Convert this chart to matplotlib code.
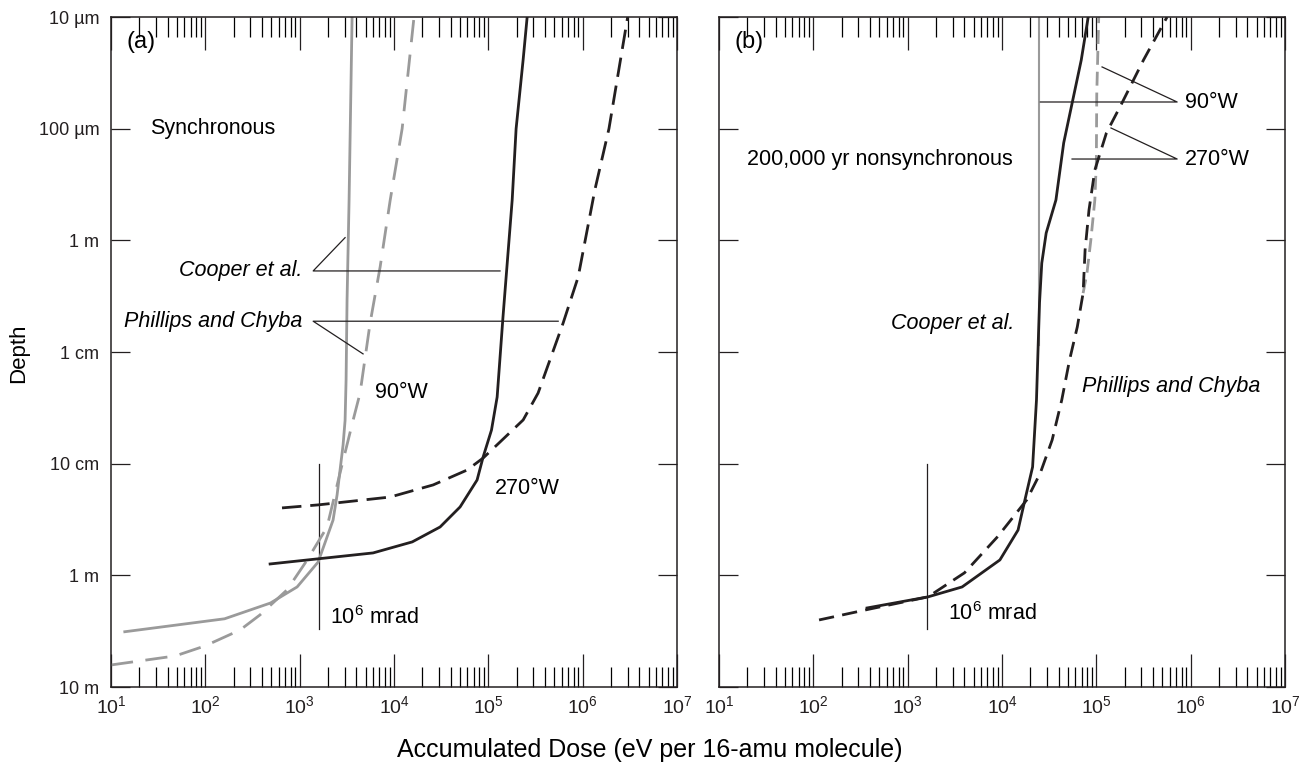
import matplotlib
matplotlib.use("Agg")
import matplotlib.pyplot as plt
from matplotlib.ticker import FixedLocator, NullLocator, FixedFormatter, LogLocator, LogFormatterMathtext

plt.rcParams['font.family'] = ['Liberation Sans', 'DejaVu Sans']
plt.rcParams['mathtext.fontset'] = 'custom'
plt.rcParams['mathtext.rm'] = 'Liberation Sans'
plt.rcParams['mathtext.it'] = 'Liberation Sans:italic'
plt.rcParams['mathtext.default'] = 'regular'

# ---------------- data ----------------
depth_ticks = [1e-5, 1e-4, 1e-3, 1e-2, 1e-1, 1, 10]
depth_labels = ['10 µm', '100 µm', '1 m', '1 cm', '10 cm', '1 m', '10 m']
dose_limits = [1e1, 1e7]

# Panel (a): synchronous
sync_cooper_90_x = [14, 160, 490, 940, 1570, 2260, 2494, 2680, 2885, 3030, 3105, 3180, 3340, 3595]
sync_cooper_90_y = [3.2, 2.45, 1.77, 1.27, 0.76, 0.32, 0.19, 0.114, 0.068, 0.041, 0.0178, 3.4e-3, 4.4e-4, 1e-5]

sync_phillips_90_x = [10, 48, 99, 233, 380, 735, 1200, 1950, 2680, 3680, 4370, 5580, 7130, 9100, 12200, 16300]
sync_phillips_90_y = [6.35, 5.27, 4.29, 3.09, 2.26, 1.35, 0.73, 0.37, 0.121, 0.041, 0.0233, 5.5e-3, 1.73e-3, 4.4e-4, 1e-4, 1e-5]

sync_cooper_270_x = [486, 6000, 15600, 30800, 50200, 76000, 88100, 108000, 124000, 143000, 179000, 197000, 234000, 258000]
sync_cooper_270_y = [0.791, 0.63, 0.502, 0.369, 0.244, 0.14, 0.0871, 0.05, 0.0253, 4.86e-3, 4.35e-4, 1e-4, 2.4e-5, 1e-5]

sync_phillips_270_x = [650, 1570, 9100, 26000, 59600, 88100, 133000, 234000, 337000, 621000, 896000, 1.35e6, 1.9e6, 2.5e6, 3.0e6]
sync_phillips_270_y = [0.249, 0.234, 0.199, 0.155, 0.114, 0.089, 0.064, 0.0406, 0.0233, 5.5e-3, 2.13e-3, 3.5e-4, 1e-4, 2.5e-5, 1e-5]

# Panel (b): 200,000 yr nonsynchronous
nons_cooper_90_x = [24500, 24500]
nons_cooper_90_y = [8.7e-3, 1e-5]

nons_phillips_90_x = [72400, 79600, 87500, 96400, 100000, 101000, 106000]
nons_phillips_90_y = [2.97e-3, 1.96e-3, 9.9e-4, 4.35e-4, 2e-4, 5e-5, 1e-5]

nons_cooper_270_x = [371, 1640, 3780, 9500, 14800, 17500, 21100, 23200, 24400, 25000, 26400, 29400, 37300, 45100, 69200, 82000]
nons_cooper_270_y = [1.96, 1.56, 1.27, 0.728, 0.393, 0.211, 0.107, 0.0269, 6.76e-3, 3.6e-3, 1.6e-3, 8.6e-4, 4.35e-4, 1.34e-4, 2.43e-5, 1e-5]

nons_phillips_270_x = [115, 400, 1640, 4000, 9000, 18300, 25500, 34000, 43000, 52000, 62800, 72400, 76000, 83600, 96400, 128000, 187000, 316000, 562000]
nons_phillips_270_y = [2.51, 2.0, 1.56, 0.95, 0.45, 0.211, 0.121, 0.0614, 0.0269, 0.0118, 5.97e-3, 2.97e-3, 1.22e-3, 5.35e-4, 2.35e-4, 1.09e-4, 5.89e-5, 2.43e-5, 1e-5]

# 10^6 mrad marker
mrad_dose = 1.6e3
mrad_depth = [0.1, 3.0]

# ---------------- styles ----------------
GRAY = '#9a9a9a'
BLACK = '#231f20'
LW = 2.0

fig = plt.figure(figsize=(13, 7.7), dpi=100)
W, H = 1300.0, 770.0
axL = fig.add_axes([111 / W, 1 - 687 / H, 566 / W, 670 / H])
axR = fig.add_axes([719 / W, 1 - 687 / H, 566 / W, 670 / H])


def setup(ax, show_ylabels):
    ax.set_xscale('log')
    ax.set_yscale('log')
    ax.set_xlim(*dose_limits)
    ax.set_ylim(10, 1e-5)
    ax.xaxis.set_major_locator(LogLocator(base=10, numticks=10))
    ax.xaxis.set_minor_locator(LogLocator(base=10, subs=range(2, 10), numticks=100))
    ax.xaxis.set_major_formatter(LogFormatterMathtext())
    ax.yaxis.set_major_locator(FixedLocator(depth_ticks))
    ax.yaxis.set_minor_locator(NullLocator())
    if show_ylabels:
        ax.yaxis.set_major_formatter(FixedFormatter(depth_labels))
    else:
        ax.set_yticklabels([])
    ax.tick_params(axis='x', which='major', direction='in', length=24, width=0.9,
                   top=True, bottom=True, labelsize=14, pad=6, colors=BLACK)
    ax.tick_params(axis='x', which='minor', direction='in', length=14.4, width=0.9,
                   top=True, bottom=True)
    ax.tick_params(axis='y', which='major', direction='in', length=13.7, width=0.9,
                   left=True, right=True, labelsize=13, pad=8.5, colors=BLACK)
    for s in ax.spines.values():
        s.set_linewidth(1.1)
        s.set_color(BLACK)
    ax.plot([mrad_dose, mrad_dose], mrad_depth, color=BLACK, lw=0.9)


setup(axL, True)
setup(axR, False)

# ---- panel (a)
axL.plot(sync_cooper_90_x, sync_cooper_90_y, color=GRAY, lw=LW, solid_joinstyle='round')
axL.plot(sync_phillips_90_x, sync_phillips_90_y, color=GRAY, lw=LW, dashes=(8, 4.5))
axL.plot(sync_cooper_270_x, sync_cooper_270_y, color=BLACK, lw=LW, solid_joinstyle='round')
axL.plot(sync_phillips_270_x, sync_phillips_270_y, color=BLACK, lw=LW, dashes=(7, 3.2))

# leaders (a)
axL.plot([3030, 1390, 133000], [9.46e-4, 1.88e-3, 1.88e-3], color=BLACK, lw=0.9)
axL.plot([4700, 1390, 550000], [0.0104, 5.3e-3, 5.3e-3], color=BLACK, lw=0.9)

FS = 15.5
axL.text(0.028, 0.963, '(a)', transform=axL.transAxes, fontsize=17, va='center', ha='left')
axL.text(0.069, 0.833, 'Synchronous', transform=axL.transAxes, fontsize=FS, va='center', ha='left')
axL.text(0.339, 0.621, 'Cooper et al.', transform=axL.transAxes, fontsize=FS, va='center', ha='right', style='italic')
axL.text(0.339, 0.545, 'Phillips and Chyba', transform=axL.transAxes, fontsize=FS, va='center', ha='right', style='italic')
axL.text(0.466, 0.440, '90°W', transform=axL.transAxes, fontsize=FS, va='center', ha='left')
axL.text(0.678, 0.297, '270°W', transform=axL.transAxes, fontsize=FS, va='center', ha='left')
axL.text(0.387, 0.104, r'10$^{6}$ mrad', transform=axL.transAxes, fontsize=FS, va='center', ha='left')

# ---- panel (b)
axR.plot(nons_cooper_90_x, nons_cooper_90_y, color=GRAY, lw=1.5)
axR.plot(nons_phillips_90_x, nons_phillips_90_y, color=GRAY, lw=LW, dashes=(5, 2.5))
axR.plot(nons_cooper_270_x, nons_cooper_270_y, color=BLACK, lw=LW, solid_joinstyle='round')
axR.plot(nons_phillips_270_x, nons_phillips_270_y, color=BLACK, lw=LW, dashes=(5.5, 3))

# leaders (b)
axR.plot([115000, 719000, 25500], [2.8e-5, 5.77e-5, 5.77e-5], color=BLACK, lw=0.9)
axR.plot([143000, 719000, 55300], [9.86e-5, 1.87e-4, 1.87e-4], color=BLACK, lw=0.9)

axR.text(0.028, 0.963, '(b)', transform=axR.transAxes, fontsize=17, va='center', ha='left')
axR.text(0.050, 0.788, '200,000 yr nonsynchronous', transform=axR.transAxes, fontsize=FS, va='center', ha='left')
axR.text(0.521, 0.543, 'Cooper et al.', transform=axR.transAxes, fontsize=FS, va='center', ha='right', style='italic')
axR.text(0.641, 0.448, 'Phillips and Chyba', transform=axR.transAxes, fontsize=FS, va='center', ha='left', style='italic')
axR.text(0.823, 0.873, '90°W', transform=axR.transAxes, fontsize=FS, va='center', ha='left')
axR.text(0.823, 0.788, '270°W', transform=axR.transAxes, fontsize=FS, va='center', ha='left')
axR.text(0.405, 0.110, r'10$^{6}$ mrad', transform=axR.transAxes, fontsize=FS, va='center', ha='left')

fig.text(19 / W, 1 - 353 / H, 'Depth', rotation=90, fontsize=16, va='center', ha='center')
fig.text(650 / W, 1 - 750 / H, 'Accumulated Dose (eV per 16-amu molecule)', fontsize=18, va='center', ha='center')

fig.savefig('out.png', dpi=100)
